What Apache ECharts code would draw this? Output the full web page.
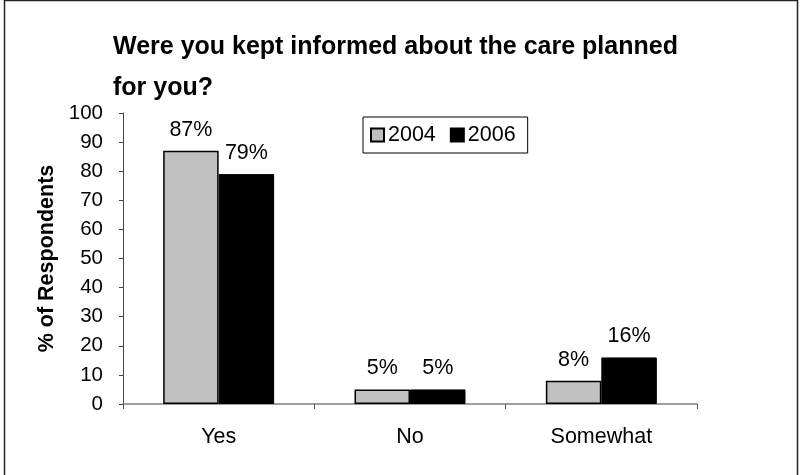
<!DOCTYPE html>
<html>
<head>
<meta charset="utf-8">
<script src="https://cdn.jsdelivr.net/npm/echarts@6/dist/echarts.min.js"></script>
<style>
html,body{margin:0;padding:0;background:#fff;}
#chart{width:801px;height:475px;}
</style>
</head>
<body>
<div id="chart"></div>
<script>
const titleText = 'Were you kept informed about the care planned\nfor you?';
const categories = ['Yes', 'No', 'Somewhat'];
const seriesNames = ['2004', '2006'];
const values2004 = [87, 5, 8];
const values2006 = [79, 5, 16];
const yAxisName = '% of Respondents';

const FONT = '"Liberation Sans", Arial, sans-serif';
const chart = echarts.init(document.getElementById('chart'), null, {renderer: 'canvas'});
chart.setOption({
  animation: false,
  backgroundColor: '#fff',
  textStyle: {fontFamily: FONT},
  title: {
    text: titleText,
    left: 113,
    top: 27,
    padding: 0,
    textStyle: {fontFamily: FONT, fontSize: 25, fontWeight: 'bold', color: '#000', lineHeight: 41}
  },
  legend: {
    data: seriesNames,
    left: 363,
    top: 117,
    orient: 'horizontal',
    padding: [7, 12, 7, 7],
    itemWidth: 13,
    itemHeight: 13,
    itemGap: 14,
    icon: 'rect',
    borderColor: '#000',
    borderWidth: 1,
    textStyle: {fontFamily: FONT, fontSize: 21.5, color: '#000', padding: [0, 0, 0, -1]}
  },
  grid: {left: 123, right: 104, top: 113, bottom: 71, containLabel: false},
  xAxis: {
    type: 'category',
    data: categories,
    axisLine: {show: true, lineStyle: {color: '#808080', width: 1.5}},
    axisTick: {show: true, length: 5, inside: false, lineStyle: {color: '#555', width: 1}},
    axisLabel: {fontFamily: FONT, fontSize: 21.5, color: '#000', margin: 22}
  },
  yAxis: {
    type: 'value',
    min: 0,
    max: 100,
    interval: 10,
    name: yAxisName,
    nameLocation: 'middle',
    nameRotate: 90,
    nameGap: 65,
    nameTextStyle: {fontFamily: FONT, fontSize: 21.5, fontWeight: 'bold', color: '#000'},
    axisLine: {show: true, lineStyle: {color: '#444', width: 1}},
    axisTick: {show: true, length: 4, inside: false, lineStyle: {color: '#444', width: 1}},
    axisLabel: {fontFamily: FONT, fontSize: 20.5, color: '#000', margin: 20},
    splitLine: {show: false}
  },
  series: [
    {
      name: seriesNames[0],
      type: 'bar',
      data: values2004,
      barGap: '0%',
      barCategoryGap: '42%',
      itemStyle: {color: '#C0C0C0', borderColor: '#000', borderWidth: 1.5},
      label: {show: true, position: 'top', distance: 10, formatter: '{c}%', fontFamily: FONT, fontSize: 21.5, color: '#000'}
    },
    {
      name: seriesNames[1],
      type: 'bar',
      data: values2006,
      barGap: '0%',
      barCategoryGap: '42%',
      itemStyle: {color: '#000', borderColor: '#000', borderWidth: 1},
      label: {show: true, position: 'top', distance: 10, formatter: '{c}%', fontFamily: FONT, fontSize: 21.5, color: '#000'}
    }
  ],
  graphic: [
    {
      type: 'rect',
      silent: true,
      shape: {x: 4.5, y: 0.5, width: 793, height: 480},
      style: {fill: 'none', stroke: '#222', lineWidth: 1.5},
      z: 100
    }
  ]
});
</script>
</body>
</html>
